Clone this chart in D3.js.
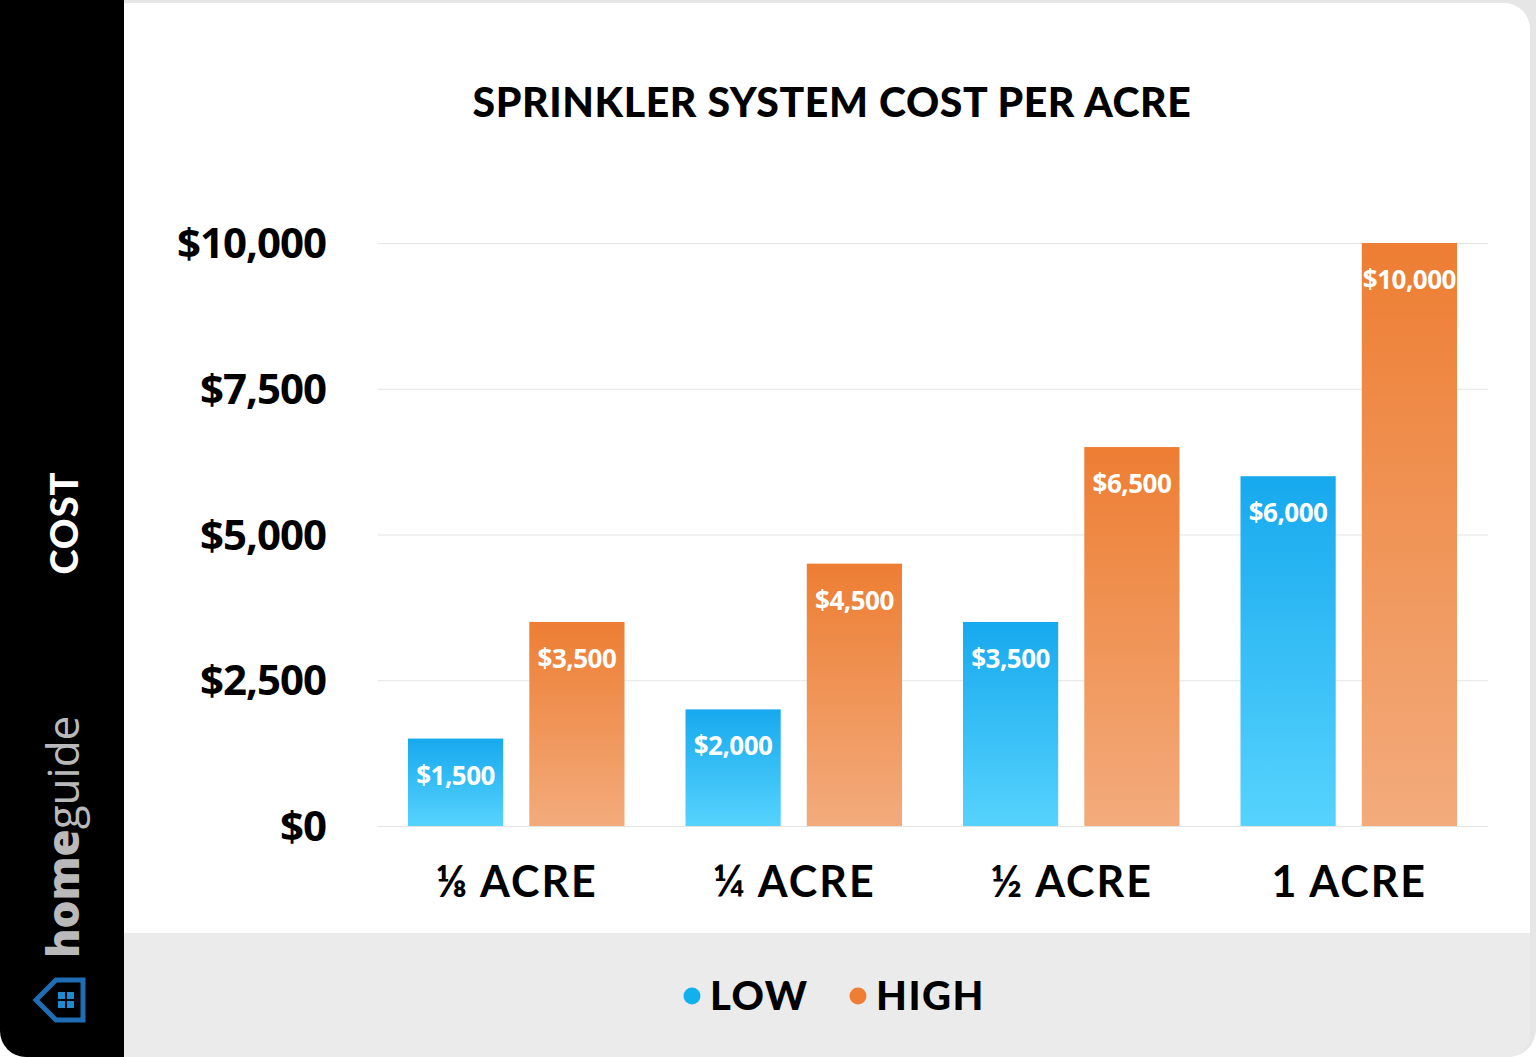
<!DOCTYPE html>
<html><head><meta charset="utf-8">
<script src="https://cdn.jsdelivr.net/npm/d3@7"></script>
<style>html,body{margin:0;padding:0;background:#fff;overflow:hidden}</style>
</head><body>
<script>
const categories = ["⅛ ACRE", "¼ ACRE", "½ ACRE", "1 ACRE"];
const seriesNames = ["LOW", "HIGH"];
const lowValues = [1500, 2000, 3500, 6000];
const highValues = [3500, 4500, 6500, 10000];
const tickValues = [0, 2500, 5000, 7500, 10000];
const tickLabels = ["$0", "$2,500", "$5,000", "$7,500", "$10,000"];
const title = "SPRINKLER SYSTEM COST PER ACRE";

const W = 1536, H = 1057;
const svg = d3.select("body").append("svg").attr("width", W).attr("height", H);

const defs = svg.append("defs");
const gb = defs.append("linearGradient").attr("id","gLow").attr("x1",0).attr("y1",0).attr("x2",0).attr("y2",1);
gb.append("stop").attr("offset","0%").attr("stop-color","#17a9ee");
gb.append("stop").attr("offset","100%").attr("stop-color","#56d3fd");
const go = defs.append("linearGradient").attr("id","gHigh").attr("x1",0).attr("y1",0).attr("x2",0).attr("y2",1);
go.append("stop").attr("offset","0%").attr("stop-color","#ed7e33");
go.append("stop").attr("offset","100%").attr("stop-color","#f3ab7c");

// card background / border
svg.append("rect").attr("x",0).attr("y",0).attr("width",W).attr("height",H).attr("rx",28).attr("fill","#e6e6e6");
svg.append("rect").attr("x",0).attr("y",0).attr("width",W).attr("height",40).attr("fill","#e6e6e6");
svg.append("path").attr("d", `M124,3 H1504 A26,26 0 0 1 1530,29 V933 H124 Z`).attr("fill","#fff");
svg.append("path").attr("d", `M124,933 H1530 V1035 A22,22 0 0 1 1508,1057 H124 Z`).attr("fill","#ebebeb");
// black side panel
svg.append("path").attr("d", `M0,0 H124 V1057 H26 A26,26 0 0 1 0,1031 Z`).attr("fill","#000");

// side texts
svg.append("text").attr("transform","translate(78,523) rotate(-90)")
  .attr("text-anchor","middle").attr("fill","#fff")
  .style("font-family","Lato, 'Noto Sans', sans-serif").style("font-weight","900").style("font-size","38px")
  .style("letter-spacing","1px").text("COST");
const hg = svg.append("text").attr("transform","translate(79,958) rotate(-90)")
  .attr("text-anchor","start").attr("fill","#b9b9b9")
  .style("font-family","'Open Sans', 'Noto Sans', sans-serif").style("font-size","44px");
hg.append("tspan").style("font-weight","800").text("home");
hg.append("tspan").style("font-weight","400").text("guide");
// logo house
const logo = svg.append("g");
logo.append("path").attr("d","M36,1000 L56,980 H83 V1020 H56 Z").attr("fill","none").attr("stroke","#1f6db3").attr("stroke-width",5).attr("stroke-linejoin","miter");
[[58,992],[67,992],[58,1001],[67,1001]].forEach(p=>logo.append("rect").attr("x",p[0]).attr("y",p[1]).attr("width",7).attr("height",7).attr("fill","#1f8ad0"));

// title
svg.append("text").attr("x",832).attr("y",117).attr("text-anchor","middle").attr("fill","#000")
  .style("font-family","Lato, sans-serif").style("font-weight","900").style("font-size","41px")
  .style("letter-spacing","0.6px").text(title);

// scales
const y = d3.scaleLinear().domain([0,10000]).range([826,243]);
const x0 = d3.scaleBand().domain(categories).range([378,1488]).paddingInner(0).paddingOuter(0);
const x1 = d3.scaleBand().domain(seriesNames).range([30, x0.bandwidth()-31]).paddingInner(0.215);

// gridlines
const grid = svg.append("g").attr("transform","translate(378,0)")
  .call(d3.axisLeft(y).tickValues(tickValues).tickSize(-1110).tickFormat(""));
grid.select(".domain").remove();
grid.selectAll("line").attr("stroke","#e3e3e3").attr("stroke-width",1);

// y labels
const yax = svg.append("g").attr("transform","translate(326,0)")
  .call(d3.axisLeft(y).tickValues(tickValues).tickSize(0).tickPadding(0).tickFormat((d,i)=>tickLabels[i]));
yax.select(".domain").remove();
yax.selectAll("text").attr("fill","#000").attr("dy","0.35em")
  .style("font-family","'Open Sans', sans-serif").style("font-weight","700").style("font-size","42px")
  .style("letter-spacing","-1px");

// x labels
const xax = svg.append("g").attr("transform","translate(0,848)")
  .call(d3.axisBottom(x0).tickSize(0).tickPadding(0));
xax.select(".domain").remove();
xax.selectAll("text").attr("fill","#000").attr("dy","1.15em")
  .style("font-family","Lato, sans-serif").style("font-weight","700").style("font-size","43px")
  .style("letter-spacing","2px");

// bars
const data = categories.map((c,i)=>({cat:c, vals:[{s:"LOW",v:lowValues[i]},{s:"HIGH",v:highValues[i]}]}));
const groups = svg.selectAll("g.grp").data(data).join("g").attr("class","grp")
  .attr("transform", d=>`translate(${x0(d.cat)},0)`);
groups.selectAll("rect").data(d=>d.vals).join("rect")
  .attr("x", d=>x1(d.s)).attr("width", x1.bandwidth())
  .attr("y", d=>y(d.v)).attr("height", d=>y(0)-y(d.v))
  .attr("fill", d=> d.s==="LOW" ? "url(#gLow)" : "url(#gHigh)");
groups.selectAll("text").data(d=>d.vals).join("text")
  .attr("x", d=>x1(d.s)+x1.bandwidth()/2).attr("y", d=>y(d.v)+46)
  .attr("text-anchor","middle").attr("fill","#fff")
  .style("font-family","'Open Sans', sans-serif").style("font-weight","700").style("font-size","26px")
  .style("letter-spacing","-0.5px")
  .text(d=>"$"+d3.format(",")(d.v));

// legend
const legend = svg.append("g");
const lg = [{s:"LOW",c:"#13b1ec",cx:692,tx:710},{s:"HIGH",c:"#ee7e34",cx:858,tx:876}];
lg.forEach(l=>{
  legend.append("circle").attr("cx",l.cx).attr("cy",996).attr("r",8.5).attr("fill",l.c);
  legend.append("text").attr("x",l.tx).attr("y",1010).attr("fill","#000")
    .style("font-family","Lato, sans-serif").style("font-weight","900").style("font-size","40px")
    .style("letter-spacing","1.5px").text(l.s);
});
</script>
</body></html>
